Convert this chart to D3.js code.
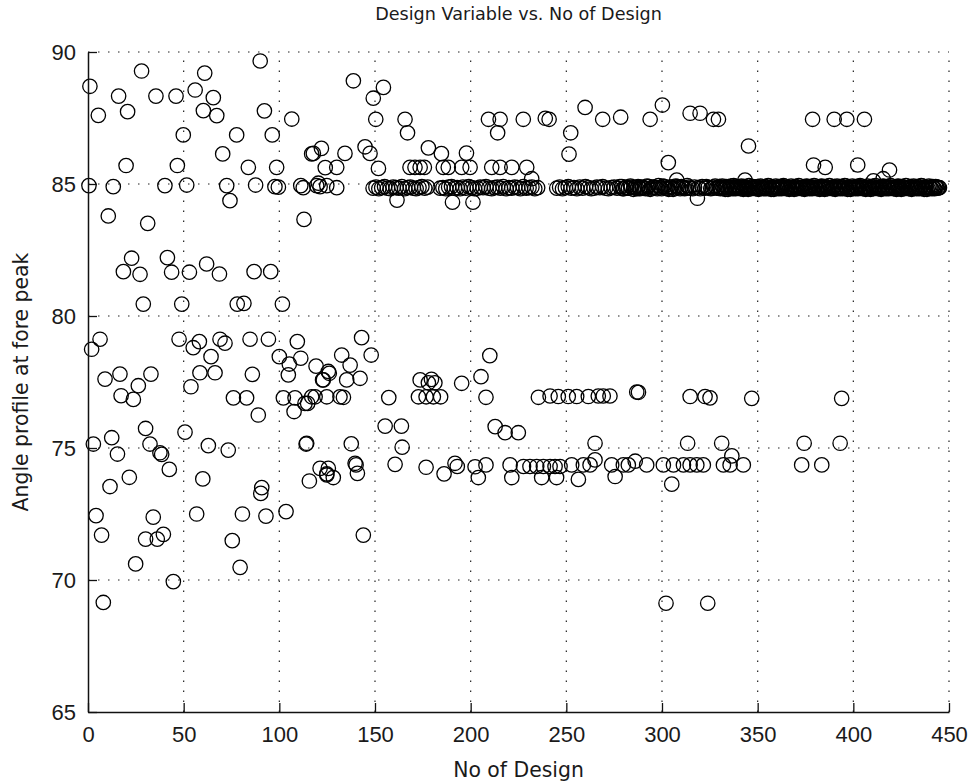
<!DOCTYPE html>
<html>
<head>
<meta charset="utf-8">
<script src="https://cdn.jsdelivr.net/npm/d3@7/dist/d3.min.js"></script>
<style>
  html, body { margin: 0; padding: 0; background: #fff; }
  svg { display: block; }
  text { font-family: "DejaVu Sans", "Liberation Sans", Arial, sans-serif; fill: #1a1a1a; }
</style>
</head>
<body>
<svg id="chart" width="973" height="783"></svg>
<script>
// ---- data ----
const titleText = "Design Variable vs. No of Design";
const xLabelText = "No of Design";
const yLabelText = "Angle profile at fore peak";
const xTicks = [0, 50, 100, 150, 200, 250, 300, 350, 400, 450];
const yTicks = [65, 70, 75, 80, 85, 90];

// scattered designs 0-130
const designsA = [1,28,90,61,16,35.5,46,56,65.5,5.4,20.7,60.3,67.3,92.2,106.5,49.8,77.7,96.3,70.4,19.9,46.7,83.8,98.6,116.9,122,124,
  0.5,13.2,40.2,51.6,72.5,87.6,97.7,99.5,111.2,119.5,121.3,124.8,
  74.2,10.6,31.2,112.9,
  22.8,18.5,27.2,41.5,43.7,53,62,68.7,86.8,95.5,
  28.9,49,78,81.5,101.6,
  6.3,1.9,47.6,55,58.2,69,71.6,84.7,94.3,109.4,
  64.3,100,105.2,111.2,119.2,104.7,123,125.6,
  8.9,16.7,32.9,26.3,17.3,23.7,53.8,58.5,66.4,85.9,
  76,82.9,89,102.1,108.2,114.8,118.7,107.7,
  30.1,32.4,37.6,38.5,42.5,12.4,2.8,15.4,50.7,62.9,73.3,114,
  21.6,11.5,60,90.8,90.3,115.7,124.8,
  4.2,34.1,56.8,80.7,93,103.5,
  7.1,30.1,36.2,39.4,75.4,
  24.9,79.5,44.6,8];
const valuesA = [88.7,89.28,89.66,89.2,88.33,88.33,88.33,88.56,88.27,87.6,87.74,87.78,87.59,87.77,87.46,86.86,86.86,86.86,86.14,85.7,85.7,85.63,85.63,86.14,86.35,85.62,
  84.94,84.9,84.94,84.96,84.94,84.96,84.9,84.88,84.94,84.94,84.9,84.94,
  84.37,83.79,83.51,83.66,
  82.19,81.68,81.58,82.21,81.66,81.66,81.97,81.59,81.68,81.68,
  80.45,80.45,80.45,80.48,80.45,
  79.12,78.74,79.12,78.8,79.03,79.12,78.97,79.12,79.12,79.03,
  78.46,78.46,78.18,78.4,78.1,77.77,77.58,77.9,
  77.61,77.8,77.8,77.36,76.98,76.84,77.32,77.85,77.85,77.79,
  76.9,76.9,76.25,76.9,76.9,76.69,76.94,76.38,
  75.74,75.15,74.82,74.76,74.19,75.39,75.15,74.77,75.6,75.09,74.92,75.15,
  73.89,73.54,73.83,73.5,73.28,73.75,74.02,
  72.44,72.38,72.5,72.5,72.42,72.59,
  71.7,71.55,71.55,71.73,71.49,
  70.61,70.48,69.94,69.15];

// upper region designs 110-300 (off the main row)
const designsB = [138.7,154.4,149.1,150.4,165.7,167,209.3,215.4,214.1,227.5,239,241,259.8,269,278.4,252.3,251.4,
  117.8,134.3,144.8,147.4,130,151.8,177.9,184.7,197.8,
  168.3,170.9,173.6,175.8,185.7,188.3,195.3,199.7,211,215.4,221.5,229.3,231.9,
  161.5,190.5,201.2];
const valuesB = [88.91,88.66,88.25,87.45,87.45,86.94,87.45,87.45,86.94,87.45,87.49,87.45,87.9,87.45,87.53,86.94,86.13,
  86.16,86.16,86.41,86.16,85.63,85.59,86.37,86.15,86.17,
  85.63,85.63,85.63,85.63,85.63,85.63,85.63,85.63,85.63,85.63,85.63,85.63,85.2,
  84.39,84.31,84.31];

// main row near 85, designs 110-290
const rowBDesigns = [112.5,120.4,130,
  149,150.5,152,153.5,155,156.5,158,159.5,161,162.5,
  164,165.5,167,168.5,170,171.5,173,174.5,176,177.5,
  184,185.5,187,188.5,190,191.5,193,194.5,196,197.5,
  199,200.5,202,203.5,205,206.5,208,209.5,211,212.5,
  214,215.5,217,218.5,220,221.5,223,224.5,226,227.5,
  229,230.5,232,233.5,235,
  245,246.5,248,249.5,251,252.5,254,255.5,257,258.5,
  260,261.5,263,264.5,266,267.5,269,270.5,272,273.5,
  275,276.5,278,279.5,281,282.5,284,285.5,287,288.5];
const rowBValues = [84.86,85.03,84.86,
  84.84,84.88,84.82,84.86,84.9,84.84,84.82,84.88,84.86,84.84,
  84.9,84.82,84.86,84.88,84.84,84.82,84.86,84.9,84.84,84.88,
  84.84,84.86,84.82,84.88,84.9,84.84,84.86,84.82,84.88,84.84,
  84.9,84.86,84.82,84.84,84.88,84.86,84.9,84.84,84.82,84.86,
  84.88,84.84,84.9,84.82,84.86,84.84,84.88,84.86,84.82,84.9,
  84.84,84.86,84.88,84.82,84.86,
  84.84,84.88,84.82,84.86,84.9,84.84,84.86,84.82,84.88,84.84,
  84.9,84.86,84.82,84.84,84.88,84.86,84.9,84.84,84.82,84.86,
  84.88,84.84,84.9,84.82,84.86,84.84,84.88,84.86,84.82,84.86];

// upper region designs 290-445 (off the main row)
const designsC = [293.8,300.2,314.7,319.9,326.9,329.5,345.2,378.7,390,396.6,405.8,303.3,379.2,385.3,402.3,418.9,318.5,307.7,343.4,410.5,415.6];
const valuesC = [87.45,87.99,87.68,87.68,87.45,87.45,86.44,87.45,87.45,87.45,87.45,85.81,85.72,85.63,85.72,85.53,84.46,85.15,85.15,85.12,85.2];

// main row near 85, designs 290-445
const rowCDesigns = [290,291.5,293,294.5,296,297.5,299,300.5,302,303.5,
  305,306.5,308,309.5,311,312.5,314,316,321,322.5,
  324,325.5,327,328.5,
  330,331,332,333,334,335,336,337,338,339,
  340,341,342,343,344,345,346,347,348,349,
  350,351,352,353,354,355,356,357,358,359,
  360,361,362,363,364,365,366,367,368,369,
  370,371,372,373,374,375,376,377,378,379,
  380,381,382,383,384,385,386,387,388,389,
  390,391,392,393,394,395,396,397,398,399,
  400,401,402,403,404,405,406,407,408,409,
  410,411,412,413,414,415,416,417,418,419,
  420,421,422,423,424,425,426,427,428,429,
  430,431,432,433,434,435,436,437,438,439,
  440,441,442,443,444,445];
const rowCValues = [84.86,84.82,84.9,84.84,84.88,84.82,84.86,84.92,84.84,84.8,
  84.88,84.84,84.9,84.82,84.86,84.84,84.88,84.82,84.9,84.84,
  84.86,84.82,84.88,84.84,
  84.9,84.84,84.86,84.8,84.88,84.84,84.92,84.82,84.86,84.84,
  84.88,84.82,84.86,84.9,84.84,84.8,84.88,84.84,84.86,84.82,
  84.9,84.84,84.86,84.82,84.88,84.84,84.92,84.8,84.86,84.84,
  84.88,84.82,84.86,84.9,84.84,84.82,84.88,84.84,84.86,84.8,
  84.9,84.84,84.86,84.82,84.88,84.84,84.9,84.82,84.86,84.84,
  84.88,84.82,84.86,84.9,84.84,84.8,84.88,84.84,84.86,84.82,
  84.9,84.84,84.86,84.82,84.88,84.84,84.92,84.8,84.86,84.84,
  84.88,84.82,84.86,84.9,84.84,84.82,84.88,84.84,84.86,84.8,
  84.9,84.84,84.86,84.82,84.88,84.84,84.9,84.82,84.86,84.84,
  84.88,84.82,84.86,84.9,84.84,84.8,84.88,84.84,84.86,84.82,
  84.9,84.84,84.86,84.82,84.88,84.84,84.92,84.8,84.86,84.84,
  84.88,84.82,84.86,84.9,84.84,84.86];

// further designs packed into the solid band, 279-330
const rowC3Designs = [279,280,281.5,282.5,283.5,285,286,287.5,288.5,289.5,
  290.8,292.2,293.8,295.2,296.8,298.2,299.8,301.2,302.8,304.2,
  305.8,307.2,308.8,310.2,311.8,313.2,314.8,317,319,320,
  323.2,326.2,327.8,329.2];
const rowC3Values = [84.9,84.82,84.88,84.84,84.92,84.8,84.86,84.9,84.82,84.88,
  84.84,84.92,84.8,84.88,84.86,84.94,84.82,84.9,84.84,84.88,
  84.8,84.92,84.86,84.9,84.82,84.94,84.84,84.88,84.86,84.82,
  84.9,84.84,84.92,84.86];

// further designs packed into the solid band, 330-445
const rowC2Designs = [330.5,331.5,332.5,333.5,334.5,335.5,336.5,337.5,338.5,339.5,
  340.5,341.5,342.5,343.5,344.5,345.5,346.5,347.5,348.5,349.5,
  350.5,351.5,352.5,353.5,354.5,355.5,356.5,357.5,358.5,359.5,
  360.5,361.5,362.5,363.5,364.5,365.5,366.5,367.5,368.5,369.5,
  370.5,371.5,372.5,373.5,374.5,375.5,376.5,377.5,378.5,379.5,
  380.5,381.5,382.5,383.5,384.5,385.5,386.5,387.5,388.5,389.5,
  390.5,391.5,392.5,393.5,394.5,395.5,396.5,397.5,398.5,399.5,
  400.5,401.5,402.5,403.5,404.5,405.5,406.5,407.5,408.5,409.5,
  410.5,411.5,412.5,413.5,414.5,415.5,416.5,417.5,418.5,419.5,
  420.5,421.5,422.5,423.5,424.5,425.5,426.5,427.5,428.5,429.5,
  430.5,431.5,432.5,433.5,434.5,435.5,436.5,437.5,438.5,439.5,
  440.5,441.5,442.5,443.5,444.5];
const rowC2Values = [84.82,84.92,84.84,84.9,84.8,84.88,84.86,84.94,84.82,84.9,
  84.84,84.92,84.8,84.88,84.86,84.94,84.82,84.9,84.84,84.88,
  84.8,84.92,84.86,84.9,84.82,84.94,84.84,84.88,84.8,84.92,
  84.86,84.9,84.82,84.94,84.84,84.88,84.8,84.92,84.86,84.9,
  84.82,84.94,84.84,84.88,84.8,84.92,84.86,84.9,84.82,84.94,
  84.84,84.88,84.8,84.92,84.86,84.9,84.82,84.94,84.84,84.88,
  84.8,84.92,84.86,84.9,84.82,84.94,84.84,84.88,84.8,84.92,
  84.86,84.9,84.82,84.94,84.84,84.88,84.8,84.92,84.86,84.9,
  84.82,84.94,84.84,84.88,84.8,84.92,84.86,84.9,84.82,84.94,
  84.84,84.88,84.8,84.92,84.86,84.9,84.82,84.94,84.84,84.88,
  84.8,84.92,84.86,84.9,84.82,84.94,84.84,84.88,84.8,84.92,
  84.86,84.9,84.82,84.88,84.86];

// lower region designs 110-400
const designsD = [124.8,131.7,133.5,113.4,116.9,157.2,172.7,176.7,180.5,184.3,
  173.6,177.9,181.3,179.5,195.3,205.4,210,
  208,235.4,241.5,245.8,251,255.4,261.5,266.7,269.3,272.8,286.8,314.7,322.5,325.1,346.9,393.9,
  143,148,132.6,137,126.1,122.6,135.2,142.2,
  155.3,163.8,164.2,137.6,114.3,
  124.8,128.2,121.3,125.6,140.1,140.8,139.6,160.5,176.7,186.1,191.8,193,202.3,204,208,
  212.8,218,224.9,
  220.6,221.5,227.6,231,234.5,238,241.5,244.1,246.7,237.1,244.9,
  252.8,256.3,258.9,262.4,265,265,273.7,275.5,279.8,282.4,286,
  287.7,313.4,331.2,374.3,393.1,
  292,300.7,306,311.2,314.7,318.2,321.6,332.1,335.6,342.5,336.5,373,383.5,305.1,
  143.9,302.1,323.9];
const valuesD = [76.94,76.94,76.92,76.69,76.94,76.91,76.94,76.94,76.94,76.94,
  77.58,77.47,77.47,77.6,77.45,77.7,78.5,
  76.92,76.92,76.97,76.95,76.95,76.95,76.95,76.97,76.97,76.97,77.12,76.95,76.95,76.9,76.88,76.88,
  79.18,78.52,78.52,78.14,77.83,77.58,77.58,77.64,
  75.83,75.83,75.03,75.16,75.18,
  73.98,73.88,74.23,74.23,74.36,74.04,74.42,74.38,74.27,74.02,74.42,74.3,74.29,73.88,74.36,
  75.81,75.58,75.58,
  74.36,73.88,74.3,74.3,74.3,74.3,74.3,74.3,74.3,73.88,73.88,
  74.36,73.81,74.36,74.36,75.18,74.55,74.36,73.92,74.36,74.36,74.5,
  77.11,75.18,75.18,75.18,75.18,
  74.36,74.36,74.36,74.36,74.36,74.36,74.36,74.36,74.36,74.36,74.7,74.36,74.36,73.63,
  71.7,69.12,69.12];

// ---- chart ----
const svg = d3.select("#chart");
const W = 973, H = 783;
const m = { left: 88, right: 24, top: 52, bottom: 71 };
const x = d3.scaleLinear().domain([0, 450]).range([m.left, W - m.right]);
const y = d3.scaleLinear().domain([65, 90]).range([H - m.bottom, m.top]);

const grid = svg.append("g");
grid.selectAll(".gx").data(xTicks.filter(t => t > 0)).join("line")
  .attr("x1", d => x(d)).attr("x2", d => x(d))
  .attr("y1", y(65)).attr("y2", y(90))
  .attr("stroke", "#222").attr("stroke-width", 1.2).attr("stroke-dasharray", "1.5,8.5");
grid.selectAll(".gy").data(yTicks.filter(t => t > 65)).join("line")
  .attr("x1", x(0)).attr("x2", x(450))
  .attr("y1", d => y(d)).attr("y2", d => y(d))
  .attr("stroke", "#222").attr("stroke-width", 1.2).attr("stroke-dasharray", "1.5,8.5");

const pts = [];
[[designsA, valuesA], [designsB, valuesB], [rowBDesigns, rowBValues],
 [designsC, valuesC], [rowCDesigns, rowCValues], [rowC3Designs, rowC3Values],
 [rowC2Designs, rowC2Values], [designsD, valuesD]].forEach(([ds, vs]) => {
  const n = Math.min(ds.length, vs.length);
  for (let i = 0; i < n; i++) pts.push({ d: ds[i], v: vs[i] });
});

svg.append("g").selectAll("circle").data(pts).join("circle")
  .attr("cx", p => x(p.d)).attr("cy", p => y(p.v)).attr("r", 7.2)
  .attr("fill", "none").attr("stroke", "#000").attr("stroke-width", 1.3);

// axes
const xAxis = d3.axisBottom(x).tickValues(xTicks).tickSizeInner(-9).tickSizeOuter(0).tickPadding(14);
const yAxis = d3.axisLeft(y).tickValues(yTicks).tickSizeInner(-9).tickSizeOuter(0).tickPadding(12);
const gx = svg.append("g").attr("transform", `translate(0,${H - m.bottom})`).call(xAxis);
const gy = svg.append("g").attr("transform", `translate(${m.left},0)`).call(yAxis);
[gx, gy].forEach(g => {
  g.select(".domain").attr("stroke", "#111").attr("stroke-width", 1.5);
  g.selectAll(".tick line").attr("stroke", "#111").attr("stroke-width", 1.3);
  g.selectAll(".tick text").style("font-family", "'Liberation Sans', Arial, sans-serif")
    .style("font-size", "22px").attr("fill", "#1a1a1a");
});
gy.selectAll(".tick text").attr("dy", "0.36em");

svg.append("text").attr("x", x(225)).attr("y", 20).attr("text-anchor", "middle")
  .style("font-size", "17.6px").text(titleText);
svg.append("text").attr("x", x(225)).attr("y", 777).attr("text-anchor", "middle")
  .style("font-size", "20.4px").text(xLabelText);
svg.append("text").attr("transform", `translate(28,${y(77.5)}) rotate(-90)`).attr("text-anchor", "middle")
  .style("font-size", "20.4px").text(yLabelText);
</script>
</body>
</html>
